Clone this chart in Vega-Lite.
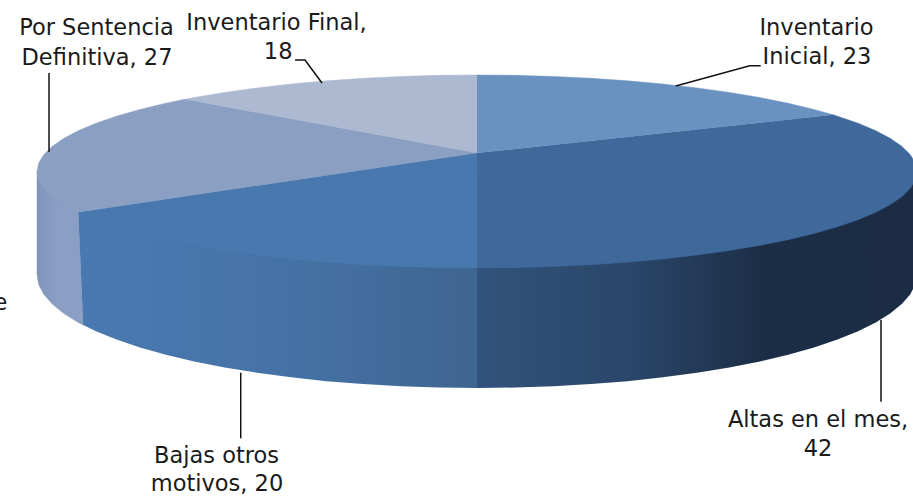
{"$schema":"https://vega.github.io/schema/vega-lite/v6.json","width":913,"height":497,"padding":0,"autosize":{"type":"none"},"background":"white","config":{"view":{"stroke":null}},
"datasets":{
"wallAltas":[{"i":0,"x":100,"y":0},{"i":1,"x":100,"y":-106.74},{"i":2,"x":99.62,"y":-116.99},{"i":3,"x":98.48,"y":-127.16},{"i":4,"x":96.59,"y":-137.17},{"i":5,"x":93.97,"y":-146.96},{"i":6,"x":90.63,"y":-156.44},{"i":7,"x":86.6,"y":-165.54},{"i":8,"x":81.92,"y":-174.2},{"i":9,"x":76.6,"y":-182.33},{"i":10,"x":70.71,"y":-189.9},{"i":11,"x":64.28,"y":-196.82},{"i":12,"x":57.36,"y":-203.08},{"i":13,"x":50,"y":-208.58},{"i":14,"x":42.26,"y":-213.32},{"i":15,"x":34.2,"y":-217.25},{"i":16,"x":25.88,"y":-220.33},{"i":17,"x":17.36,"y":-222.55},{"i":18,"x":8.72,"y":-223.89},{"i":19,"x":0,"y":-224.34},{"i":20,"x":0,"y":0}],
"wallBajas":[{"i":0,"x":0,"y":0},{"i":1,"x":0,"y":-224.34},{"i":2,"x":-8.72,"y":-223.89},{"i":3,"x":-17.36,"y":-222.55},{"i":4,"x":-25.88,"y":-220.33},{"i":5,"x":-34.2,"y":-217.25},{"i":6,"x":-42.26,"y":-213.32},{"i":7,"x":-50,"y":-208.58},{"i":8,"x":-57.36,"y":-203.08},{"i":9,"x":-64.28,"y":-196.82},{"i":10,"x":-70.71,"y":-189.9},{"i":11,"x":-76.6,"y":-182.33},{"i":12,"x":-81.92,"y":-174.2},{"i":13,"x":-86.6,"y":-165.54},{"i":14,"x":-89.5,"y":-159.19},{"i":15,"x":-90.63,"y":-42.26}],
"wallSentencia":[{"i":0,"x":-90.63,"y":-42.26},{"i":1,"x":-89.5,"y":-159.19},{"i":2,"x":-90.63,"y":-156.44},{"i":3,"x":-93.97,"y":-146.96},{"i":4,"x":-96.59,"y":-137.17},{"i":5,"x":-98.48,"y":-127.16},{"i":6,"x":-99.62,"y":-116.99},{"i":7,"x":-100,"y":-106.74},{"i":8,"x":-100,"y":0}],
"topInicial":[{"i":0,"x":0,"y":19.17},{"i":1,"x":0,"y":100},{"i":2,"x":8.72,"y":99.62},{"i":3,"x":17.36,"y":98.48},{"i":4,"x":25.88,"y":96.59},{"i":5,"x":34.2,"y":93.97},{"i":6,"x":42.26,"y":90.63},{"i":7,"x":50,"y":86.6},{"i":8,"x":57.36,"y":81.92},{"i":9,"x":64.28,"y":76.6},{"i":10,"x":70.71,"y":70.71},{"i":11,"x":76.6,"y":64.28},{"i":12,"x":80.9,"y":58.78}],
"topAltas":[{"i":0,"x":0,"y":19.17},{"i":1,"x":80.9,"y":58.78},{"i":2,"x":81.92,"y":57.36},{"i":3,"x":86.6,"y":50},{"i":4,"x":90.63,"y":42.26},{"i":5,"x":93.97,"y":34.2},{"i":6,"x":96.59,"y":25.88},{"i":7,"x":98.48,"y":17.36},{"i":8,"x":99.62,"y":8.72},{"i":9,"x":100,"y":0},{"i":10,"x":99.62,"y":-8.72},{"i":11,"x":98.48,"y":-17.36},{"i":12,"x":96.59,"y":-25.88},{"i":13,"x":93.97,"y":-34.2},{"i":14,"x":90.63,"y":-42.26},{"i":15,"x":86.6,"y":-50},{"i":16,"x":81.92,"y":-57.36},{"i":17,"x":76.6,"y":-64.28},{"i":18,"x":70.71,"y":-70.71},{"i":19,"x":64.28,"y":-76.6},{"i":20,"x":57.36,"y":-81.92},{"i":21,"x":50,"y":-86.6},{"i":22,"x":42.26,"y":-90.63},{"i":23,"x":34.2,"y":-93.97},{"i":24,"x":25.88,"y":-96.59},{"i":25,"x":17.36,"y":-98.48},{"i":26,"x":8.72,"y":-99.62},{"i":27,"x":0,"y":-100}],
"topBajas":[{"i":0,"x":0,"y":19.17},{"i":1,"x":0,"y":-100},{"i":2,"x":-8.72,"y":-99.62},{"i":3,"x":-17.36,"y":-98.48},{"i":4,"x":-25.88,"y":-96.59},{"i":5,"x":-34.2,"y":-93.97},{"i":6,"x":-42.26,"y":-90.63},{"i":7,"x":-50,"y":-86.6},{"i":8,"x":-57.36,"y":-81.92},{"i":9,"x":-64.28,"y":-76.6},{"i":10,"x":-70.71,"y":-70.71},{"i":11,"x":-76.6,"y":-64.28},{"i":12,"x":-81.92,"y":-57.36},{"i":13,"x":-86.6,"y":-50},{"i":14,"x":-90.63,"y":-42.26}],
"topSentencia":[{"i":0,"x":0,"y":19.17},{"i":1,"x":-90.63,"y":-42.26},{"i":2,"x":-93.97,"y":-34.2},{"i":3,"x":-96.59,"y":-25.88},{"i":4,"x":-98.48,"y":-17.36},{"i":5,"x":-99.62,"y":-8.72},{"i":6,"x":-100,"y":0},{"i":7,"x":-99.62,"y":8.72},{"i":8,"x":-98.48,"y":17.36},{"i":9,"x":-96.59,"y":25.88},{"i":10,"x":-93.97,"y":34.2},{"i":11,"x":-90.63,"y":42.26},{"i":12,"x":-86.6,"y":50},{"i":13,"x":-81.92,"y":57.36},{"i":14,"x":-76.6,"y":64.28},{"i":15,"x":-70.71,"y":70.71},{"i":16,"x":-66.4,"y":74.8}],
"topFinal":[{"i":0,"x":0,"y":19.17},{"i":1,"x":-66.4,"y":74.8},{"i":2,"x":-64.28,"y":76.6},{"i":3,"x":-57.36,"y":81.92},{"i":4,"x":-50,"y":86.6},{"i":5,"x":-42.26,"y":90.63},{"i":6,"x":-34.2,"y":93.97},{"i":7,"x":-25.88,"y":96.59},{"i":8,"x":-17.36,"y":98.48},{"i":9,"x":-8.72,"y":99.62},{"i":10,"x":0,"y":100}],
"leaders":[{"k":"Por Sentencia","i":0,"x":-97.27,"y":102.07},{"k":"Por Sentencia","i":1,"x":-97.27,"y":20.2},{"k":"Inventario Final","i":0,"x":-41.36,"y":115.54},{"k":"Inventario Final","i":1,"x":-39.09,"y":115.54},{"k":"Inventario Final","i":2,"x":-35.23,"y":91.71},{"k":"Inventario Inicial","i":0,"x":64.48,"y":109.64},{"k":"Inventario Inicial","i":1,"x":61.98,"y":109.64},{"k":"Inventario Inicial","i":2,"x":45.16,"y":88.6},{"k":"Altas","i":0,"x":91.82,"y":-153.89},{"k":"Altas","i":1,"x":91.82,"y":-238.55},{"k":"Bajas","i":0,"x":-53.7,"y":-208.5},{"k":"Bajas","i":1,"x":-53.7,"y":-276.5}],
"labels":[{"t":"Por Sentencia","x":-86.48,"y":148.7},{"t":"Definitiva, 27","x":-86.36,"y":117.6},{"t":"Inventario Final,","x":-45.57,"y":153.9},{"t":"18","x":-45.2,"y":123.8},{"t":"Inventario","x":77.16,"y":148.7},{"t":"Inicial, 23","x":77.27,"y":118.65},{"t":"Altas en el mes,","x":77.5,"y":-257.5},{"t":"42","x":77.5,"y":-287.56},{"t":"Bajas otros","x":-59.2,"y":-294.8},{"t":"motivos, 20","x":-59.09,"y":-323.8},{"t":"e","x":-108.3,"y":-136.3}]
},
"encoding":{"x":{"field":"x","type":"quantitative","axis":null,"scale":{"domain":[-108.41,99.09],"nice":false,"zero":false}},"y":{"field":"y","type":"quantitative","axis":null,"scale":{"domain":[-337.31,177.72],"nice":false,"zero":false}}},
"layer":[
{"data":{"name":"wallSentencia"},"mark":{"type":"line","clip":true,"strokeWidth":0.5,"stroke":"#8599bc","fill":{"gradient":"linear","x1":0,"x2":1,"y1":0,"y2":0,"stops":[{"offset":0,"color":"#8095b9"},{"offset":0.45,"color":"#8a9fc3"},{"offset":1,"color":"#8a9fc3"}]}},"encoding":{"order":{"field":"i","type":"quantitative"}}},
{"data":{"name":"wallBajas"},"mark":{"type":"line","clip":true,"strokeWidth":0,"fill":{"gradient":"linear","x1":0,"x2":1,"y1":0,"y2":0,"stops":[{"offset":0,"color":"#4a79b1"},{"offset":0.45,"color":"#4674a8"},{"offset":1,"color":"#3f6591"}]}},"encoding":{"order":{"field":"i","type":"quantitative"}}},
{"data":{"name":"wallAltas"},"mark":{"type":"line","clip":true,"strokeWidth":0,"fill":{"gradient":"linear","x1":0,"x2":1,"y1":0,"y2":0,"stops":[{"offset":0,"color":"#32537c"},{"offset":0.35,"color":"#2a4669"},{"offset":0.65,"color":"#1c2e46"},{"offset":1,"color":"#1b2c44"}]}},"encoding":{"order":{"field":"i","type":"quantitative"}}},
{"data":{"name":"topAltas"},"mark":{"type":"line","clip":true,"strokeWidth":0.5,"stroke":"#3f689b","fill":"#3f689b"},"encoding":{"order":{"field":"i","type":"quantitative"}}},
{"data":{"name":"topInicial"},"mark":{"type":"line","clip":true,"strokeWidth":0.5,"stroke":"#6a92c0","fill":"#6a92c0"},"encoding":{"order":{"field":"i","type":"quantitative"}}},
{"data":{"name":"topFinal"},"mark":{"type":"line","clip":true,"strokeWidth":0.5,"stroke":"#adb9d1","fill":"#adb9d1"},"encoding":{"order":{"field":"i","type":"quantitative"}}},
{"data":{"name":"topSentencia"},"mark":{"type":"line","clip":true,"strokeWidth":0.5,"stroke":"#8a9fc1","fill":"#8a9fc1"},"encoding":{"order":{"field":"i","type":"quantitative"}}},
{"data":{"name":"topBajas"},"mark":{"type":"line","clip":true,"strokeWidth":0.5,"stroke":"#4878ae","fill":"#4878ae"},"encoding":{"order":{"field":"i","type":"quantitative"}}},
{"data":{"name":"leaders"},"mark":{"type":"line","stroke":"#111111","strokeWidth":1.5},"encoding":{"detail":{"field":"k"},"order":{"field":"i","type":"quantitative"}}},
{"data":{"name":"labels"},"mark":{"type":"text","font":"DejaVu Sans","fontSize":22.5,"align":"center","baseline":"middle","fill":"#1a1a1a"},"encoding":{"text":{"field":"t"}}}
]}
